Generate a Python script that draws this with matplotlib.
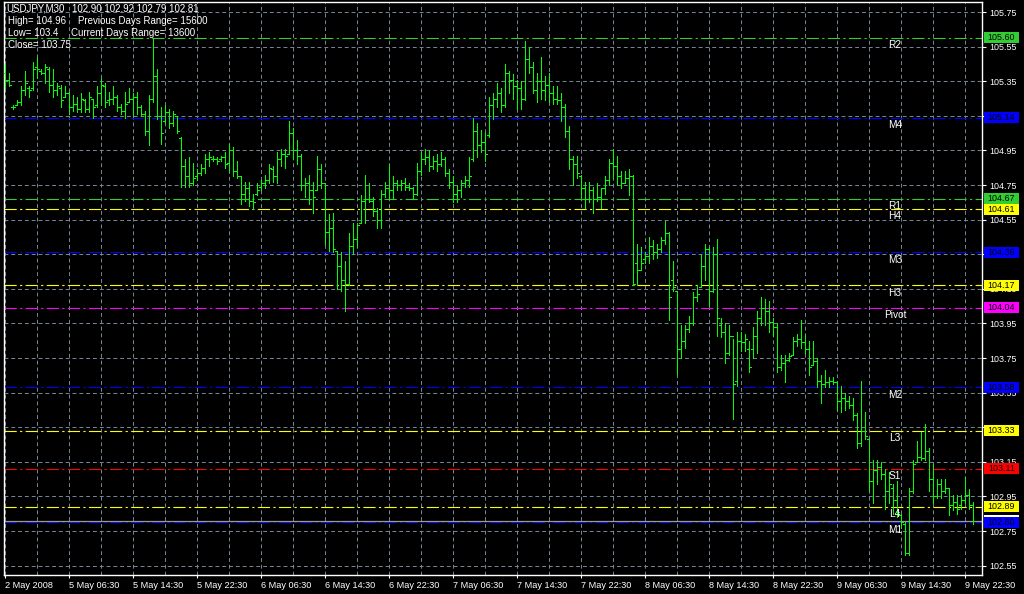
import numpy as np
import matplotlib.pyplot as plt
from matplotlib.patches import Rectangle

plt.rcParams['font.family'] = ['Liberation Sans', 'DejaVu Sans']

# USDJPY M30 bars (one row = 10 bars)
highs = [
    105.45, 105.40, 105.21, 105.24, 105.32, 105.41, 105.32, 105.46, 105.49, 105.42,
    105.45, 105.43, 105.42, 105.34, 105.33, 105.32, 105.29, 105.27, 105.26, 105.28,
    105.25, 105.29, 105.25, 105.32, 105.37, 105.34, 105.29, 105.32, 105.27, 105.22,
    105.29, 105.31, 105.28, 105.29, 105.21, 105.18, 105.27, 105.60, 105.42, 105.20,
    105.21, 105.19, 105.18, 105.15, 105.03, 104.90, 104.91, 104.88, 104.84, 104.87,
    104.93, 104.94, 104.92, 104.91, 104.92, 104.94, 104.99, 104.97, 104.89, 104.80,
    104.77, 104.77, 104.70, 104.76, 104.78, 104.81, 104.87, 104.86, 104.94, 104.96,
    104.96, 105.12, 105.08, 105.01, 104.93, 104.79, 104.81, 104.77, 104.92, 104.87,
    104.76, 104.58, 104.59, 104.37, 104.36, 104.31, 104.47, 104.53, 104.53, 104.69,
    104.81, 104.76, 104.68, 104.62, 104.72, 104.77, 104.87, 104.80, 104.78, 104.78,
    104.79, 104.76, 104.74, 104.88, 104.94, 104.96, 104.95, 104.92, 104.93, 104.94,
    104.91, 104.84, 104.80, 104.75, 104.78, 104.80, 104.91, 105.14, 105.11, 105.07,
    105.05, 105.26, 105.28, 105.34, 105.31, 105.45, 105.41, 105.39, 105.36, 105.35,
    105.58, 105.55, 105.46, 105.40, 105.49, 105.38, 105.40, 105.32, 105.32, 105.28,
    105.22, 105.09, 104.92, 104.92, 104.81, 104.77, 104.77, 104.74, 104.76, 104.73,
    104.80, 104.90, 104.96, 104.92, 104.83, 104.83, 104.84, 104.81, 104.41, 104.39,
    104.36, 104.45, 104.43, 104.41, 104.45, 104.54, 104.48, 104.31, 104.14, 103.94,
    103.94, 103.99, 104.13, 104.17, 104.35, 104.41, 104.39, 104.39, 104.44, 103.98,
    103.95, 103.94, 103.86, 103.90, 103.90, 103.89, 103.85, 103.93, 104.02, 104.10,
    104.09, 104.08, 103.98, 103.95, 103.77, 103.77, 103.78, 103.87, 103.89, 103.97,
    103.89, 103.85, 103.85, 103.75, 103.65, 103.68, 103.64, 103.64, 103.62, 103.59,
    103.55, 103.53, 103.52, 103.43, 103.62, 103.44, 103.29, 103.16, 103.16, 103.15,
    103.11, 103.09, 103.02, 103.04, 102.85, 102.80, 103.00, 103.16, 103.27, 103.32,
    103.37, 103.23, 103.14, 103.05, 103.05, 103.05, 103.00, 102.96, 102.96, 102.96,
    103.06, 102.99, 102.92,
]
lows = [
    105.31, 105.32, 105.19, 105.21, 105.21, 105.27, 105.26, 105.30, 105.37, 105.39,
    105.34, 105.29, 105.26, 105.27, 105.20, 105.26, 105.16, 105.18, 105.17, 105.17,
    105.17, 105.17, 105.14, 105.20, 105.21, 105.20, 105.21, 105.22, 105.18, 105.16,
    105.14, 105.23, 105.15, 105.16, 105.15, 105.04, 104.98, 105.23, 105.13, 104.99,
    105.11, 105.08, 105.09, 105.05, 104.74, 104.74, 104.74, 104.75, 104.78, 104.81,
    104.82, 104.86, 104.89, 104.87, 104.89, 104.85, 104.83, 104.80, 104.79, 104.64,
    104.66, 104.63, 104.61, 104.69, 104.72, 104.73, 104.76, 104.77, 104.76, 104.86,
    104.85, 104.93, 104.90, 104.87, 104.72, 104.68, 104.64, 104.59, 104.72, 104.73,
    104.41, 104.37, 104.36, 104.15, 104.14, 104.02, 104.17, 104.35, 104.39, 104.53,
    104.53, 104.65, 104.57, 104.50, 104.50, 104.68, 104.67, 104.67, 104.72, 104.72,
    104.72, 104.72, 104.67, 104.69, 104.81, 104.87, 104.83, 104.84, 104.83, 104.86,
    104.80, 104.73, 104.65, 104.65, 104.68, 104.74, 104.74, 104.89, 104.91, 104.94,
    104.89, 105.03, 105.13, 105.20, 105.17, 105.20, 105.28, 105.25, 105.19, 105.19,
    105.24, 105.40, 105.28, 105.23, 105.25, 105.24, 105.23, 105.22, 105.22, 105.12,
    105.03, 104.84, 104.75, 104.79, 104.68, 104.62, 104.65, 104.59, 104.66, 104.62,
    104.70, 104.75, 104.79, 104.75, 104.73, 104.76, 104.69, 104.17, 104.17, 104.26,
    104.30, 104.30, 104.32, 104.33, 104.36, 104.41, 103.97, 104.14, 103.66, 103.75,
    103.81, 103.90, 103.94, 104.08, 104.16, 104.20, 104.05, 104.13, 103.88, 103.87,
    103.72, 103.77, 103.40, 103.59, 103.79, 103.79, 103.67, 103.75, 103.78, 103.94,
    103.94, 103.90, 103.88, 103.67, 103.68, 103.61, 103.73, 103.77, 103.82, 103.81,
    103.78, 103.65, 103.71, 103.58, 103.49, 103.58, 103.58, 103.60, 103.45, 103.44,
    103.45, 103.46, 103.39, 103.23, 103.24, 103.28, 102.98, 102.91, 103.02, 103.05,
    102.88, 102.91, 102.85, 102.83, 102.77, 102.61, 102.61, 102.97, 103.15, 103.16,
    103.16, 102.98, 102.91, 102.94, 102.94, 102.97, 102.84, 102.87, 102.85, 102.88,
    102.91, 102.88, 102.79,
]
opens = [
    105.40, 105.36, 105.20, 105.21, 105.23, 105.30, 105.31, 105.31, 105.43, 105.41,
    105.40, 105.42, 105.33, 105.30, 105.31, 105.26, 105.28, 105.20, 105.22, 105.19,
    105.24, 105.19, 105.25, 105.21, 105.28, 105.32, 105.24, 105.25, 105.26, 105.20,
    105.18, 105.23, 105.25, 105.26, 105.20, 105.16, 105.06, 105.25, 105.38, 105.15,
    105.12, 105.17, 105.11, 105.15, 105.02, 104.86, 104.80, 104.76, 104.80, 104.82,
    104.85, 104.90, 104.90, 104.90, 104.90, 104.91, 104.88, 104.95, 104.83, 104.80,
    104.70, 104.73, 104.66, 104.70, 104.74, 104.76, 104.78, 104.84, 104.80, 104.90,
    104.93, 104.93, 105.05, 104.95, 104.92, 104.75, 104.76, 104.72, 104.72, 104.84,
    104.76, 104.48, 104.50, 104.37, 104.28, 104.20, 104.18, 104.40, 104.44, 104.53,
    104.66, 104.67, 104.66, 104.60, 104.55, 104.70, 104.73, 104.72, 104.76, 104.75,
    104.76, 104.74, 104.73, 104.70, 104.83, 104.90, 104.91, 104.86, 104.89, 104.87,
    104.90, 104.82, 104.77, 104.70, 104.72, 104.76, 104.78, 104.90, 105.06, 104.98,
    105.00, 105.04, 105.21, 105.25, 105.28, 105.21, 105.40, 105.36, 105.32, 105.31,
    105.25, 105.48, 105.43, 105.30, 105.35, 105.30, 105.33, 105.28, 105.25, 105.24,
    105.20, 105.06, 104.90, 104.87, 104.80, 104.73, 104.67, 104.72, 104.67, 104.68,
    104.73, 104.78, 104.88, 104.86, 104.80, 104.76, 104.79, 104.80, 104.30, 104.26,
    104.32, 104.34, 104.40, 104.36, 104.38, 104.43, 104.47, 104.20, 104.14, 103.80,
    103.85, 103.92, 103.95, 104.10, 104.16, 104.28, 104.38, 104.14, 104.35, 103.94,
    103.90, 103.78, 103.88, 103.62, 103.85, 103.84, 103.80, 103.80, 103.88, 103.98,
    104.04, 104.02, 103.96, 103.93, 103.70, 103.72, 103.74, 103.77, 103.85, 103.86,
    103.84, 103.80, 103.71, 103.73, 103.62, 103.60, 103.61, 103.62, 103.61, 103.50,
    103.52, 103.50, 103.48, 103.42, 103.26, 103.33, 103.28, 103.04, 103.10, 103.12,
    103.08, 102.98, 103.00, 102.93, 102.84, 102.79, 102.62, 102.98, 103.15, 103.18,
    103.17, 103.21, 103.05, 102.95, 103.02, 102.98, 103.00, 102.90, 102.92, 102.90,
    102.93, 102.96, 102.90,
]
closes = [
    105.36, 105.33, 105.20, 105.23, 105.30, 105.34, 105.30, 105.42, 105.42, 105.40,
    105.43, 105.33, 105.30, 105.32, 105.24, 105.28, 105.20, 105.22, 105.19, 105.25,
    105.19, 105.26, 105.20, 105.28, 105.33, 105.23, 105.25, 105.26, 105.20, 105.18,
    105.22, 105.25, 105.26, 105.20, 105.16, 105.06, 105.25, 105.38, 105.15, 105.05,
    105.17, 105.11, 105.16, 105.06, 104.86, 104.80, 104.76, 104.79, 104.82, 104.85,
    104.90, 104.91, 104.90, 104.89, 104.91, 104.87, 104.95, 104.83, 104.80, 104.70,
    104.73, 104.66, 104.65, 104.72, 104.76, 104.78, 104.85, 104.80, 104.90, 104.93,
    104.92, 105.05, 104.95, 104.92, 104.75, 104.76, 104.72, 104.68, 104.84, 104.76,
    104.48, 104.50, 104.38, 104.28, 104.20, 104.18, 104.40, 104.44, 104.52, 104.66,
    104.67, 104.66, 104.60, 104.55, 104.70, 104.73, 104.72, 104.76, 104.75, 104.76,
    104.74, 104.73, 104.70, 104.83, 104.90, 104.91, 104.86, 104.89, 104.87, 104.90,
    104.82, 104.77, 104.70, 104.72, 104.76, 104.78, 104.80, 105.06, 104.98, 105.00,
    104.93, 105.21, 105.25, 105.28, 105.21, 105.40, 105.36, 105.32, 105.31, 105.25,
    105.48, 105.43, 105.30, 105.35, 105.30, 105.33, 105.28, 105.25, 105.24, 105.20,
    105.06, 104.90, 104.87, 104.82, 104.73, 104.67, 104.72, 104.67, 104.68, 104.73,
    104.78, 104.88, 104.86, 104.80, 104.76, 104.79, 104.80, 104.18, 104.26, 104.30,
    104.34, 104.40, 104.36, 104.38, 104.43, 104.47, 104.10, 104.16, 103.80, 103.85,
    103.92, 103.95, 104.10, 104.12, 104.28, 104.38, 104.14, 104.35, 103.98, 103.90,
    103.78, 103.88, 103.60, 103.85, 103.84, 103.86, 103.70, 103.88, 103.98, 104.04,
    104.02, 103.96, 103.93, 103.70, 103.72, 103.74, 103.76, 103.85, 103.86, 103.84,
    103.80, 103.70, 103.73, 103.62, 103.60, 103.61, 103.62, 103.61, 103.50, 103.52,
    103.50, 103.48, 103.42, 103.26, 103.33, 103.30, 103.04, 103.10, 103.12, 103.08,
    102.98, 103.02, 102.93, 102.86, 102.80, 102.62, 102.98, 103.14, 103.18, 103.17,
    103.21, 103.05, 102.95, 103.02, 102.98, 103.00, 102.90, 102.92, 102.88, 102.93,
    102.96, 102.90, 102.81,
]

# one label every 16 bars (8 hours)
time_labels = ["2 May 2008", "5 May 06:30", "5 May 14:30", "5 May 22:30",
               "6 May 06:30", "6 May 14:30", "6 May 22:30", "7 May 06:30",
               "7 May 14:30", "7 May 22:30", "8 May 06:30", "8 May 14:30",
               "8 May 22:30", "9 May 06:30", "9 May 14:30", "9 May 22:30"]

price_ticks = [102.55, 102.75, 102.95, 103.15, 103.35, 103.55, 103.75, 103.95,
               104.15, 104.35, 104.55, 104.75, 104.95, 105.15, 105.35, 105.55, 105.75]

# pivot / camarilla levels
level_names = ["R2", "M4", "R1", "H4", "M3", "H3", "Pivot", "M2", "L3", "S1", "L4", "M1"]
level_values = [105.60, 105.14, 104.67, 104.61, 104.36, 104.17, 104.04,
                103.58, 103.33, 103.11, 102.89, 102.80]
level_colors = ["#32cd32", "#0000ff", "#32cd32", "#ffff00", "#0000ff", "#ffff00",
                "#ff00ff", "#0000ff", "#ffff00", "#ff0000", "#ffff00", "#0000ff"]

header_lines = [
    ("USDJPY,M30", "102.90 102.92 102.79 102.81"),
    ("High= 104.96", "Previous Days Range= 15600"),
    ("Low= 103.4", "Current Days Range= 13600"),
    ("Close= 103.75", ""),
]

W, H = 1024, 594
bar_color = "#00ff00"
grid_color = "#778899"

fig = plt.figure(figsize=(W / 100, H / 100), dpi=100, facecolor="black")
ax = fig.add_axes([4 / W, 19 / H, 978 / W, 573 / H], facecolor="black")

# OHLC bars
x = np.arange(len(highs))
ax.vlines(x, lows, highs, color=bar_color, lw=0.7, antialiased=False, zorder=3)
ax.hlines(opens, x - 0.4, x, color=bar_color, lw=0.7, antialiased=False, zorder=3)
ax.hlines(closes, x, x + 0.4, color=bar_color, lw=0.7, antialiased=False, zorder=3)

# level lines and their names
for name, val, col in zip(level_names, level_values, level_colors):
    ax.axhline(val, color=col, lw=0.8, linestyle=(0, (11, 3, 2, 3)), zorder=2)
    ax.annotate(name, xy=(0.911, val), xycoords=ax.get_yaxis_transform(),
                xytext=(0, -5.2), textcoords="offset points", ha="center", va="center",
                color="white", fontsize=7.3, zorder=4)

# bid line
ax.axhline(closes[-1], color="#9a9a9a", lw=0.9, zorder=2)

# grid / ticks
ax.set_yticks(price_ticks)
ax.set_yticklabels([f"{p:.2f}" for p in price_ticks])
ax.set_xticks(np.arange(0, 16 * len(time_labels), 16))
ax.set_xticklabels(time_labels)
ax.set_xticks(np.arange(8, len(highs), 16), minor=True)
ax.set_xlim(-0.25, 244.25)
ax.set_ylim(102.4957, 105.808)
ax.set_axisbelow(True)
ax.grid(True, which="both", color=grid_color, linestyle=(0, (4, 3)), lw=0.7)

ax.yaxis.tick_right()
ax.tick_params(axis="y", colors="white", labelsize=6.4, length=3, width=0.8, pad=2)
ax.tick_params(axis="x", which="major", colors="white", labelsize=6.6, length=2.5,
               width=0.8, pad=1.5)
ax.tick_params(axis="x", which="minor", length=0)
for lbl in ax.get_xticklabels():
    lbl.set_horizontalalignment("left")
for sp in ax.spines.values():
    sp.set_color("white")
    sp.set_linewidth(1)

# price boxes on the right scale
box_w = 35 / 978
box_h = 11 / 173
tr = ax.get_yaxis_transform()
ax.add_patch(Rectangle((1.002, closes[-1] - box_h / 2), box_w, box_h, transform=tr,
                       fc="white", ec="none", clip_on=False, zorder=5))
for val, col in zip(level_values, level_colors):
    ax.add_patch(Rectangle((1.002, val - box_h / 2), box_w, box_h, transform=tr,
                           fc=col, ec="none", clip_on=False, zorder=5))
    ax.text(1.002 + box_w / 2, val, f"{val:.2f}", transform=tr, ha="center",
            va="center", fontsize=6.4, color="black", clip_on=False, zorder=6)

# header text
for k, (left, right) in enumerate(header_lines):
    y = 1 - (8.5 + 12 * k) / H
    fig.text((6 if k == 0 else 8) / W, y, left, color="white", fontsize=7, va="center")
    if right:
        xr = [72, 78, 71][k]
        fig.text(xr / W, y, right, color="white", fontsize=7, va="center")

fig.savefig("out.png", dpi=100, facecolor="black")
